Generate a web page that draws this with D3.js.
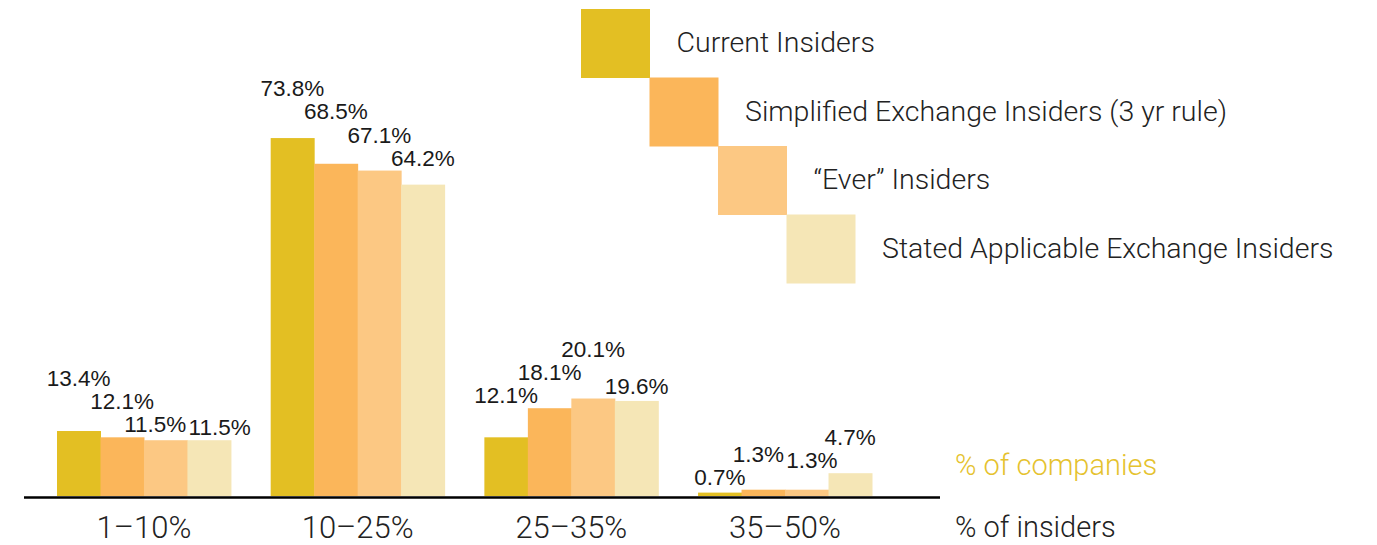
<!DOCTYPE html>
<html>
<head>
<meta charset="utf-8">
<script src="https://cdn.jsdelivr.net/npm/d3@7"></script>
<style>
	body { margin: 0; background: #fff; }
	svg { display: block; }
	.val { font-family: "Liberation Sans", Arial, sans-serif; font-size: 22.5px; fill: #1a1a1a; }
	.light { font-family: Roboto, "Open Sans", sans-serif; font-weight: 300; fill: #222; }
</style>
</head>
<body>
<svg width="1377" height="545"></svg>
<script>
// Data
var groups = ["1–10%", "10–25%", "25–35%", "35–50%"];
var series = ["Current Insiders", "Simplified Exchange Insiders (3 yr rule)", "“Ever” Insiders", "Stated Applicable Exchange Insiders"];
var current = [13.4, 73.8, 12.1, 0.7];
var simplified = [12.1, 68.5, 18.1, 1.3];
var ever = [11.5, 67.1, 20.1, 1.3];
var stated = [11.5, 64.2, 19.6, 4.7];
var colors = ["#e3bf23", "#fbb65a", "#fcc883", "#f5e6b6"];

var values = [current, simplified, ever, stated];

var svg = d3.select("svg"),
	width = +svg.attr("width"),
	height = +svg.attr("height");

// Scales
var x0 = d3.scaleBand().domain(groups).range([57, 872]).paddingInner(0.186);
var x1 = d3.scaleBand().domain(d3.range(series.length)).range([0, x0.bandwidth()]);
var y = d3.scaleLinear().domain([0, 80]).range([496, 108]);

// Flatten into bars
var bars = [];
groups.forEach((g, gi) => {
	series.forEach((s, si) => {
		bars.push({ group: g, gi: gi, si: si, value: values[si][gi] });
	});
});
bars.forEach((d) => {
	d.x0 = x0(d.group) + x1(d.si);
	d.x1 = d.x0 + x1.bandwidth();
	d.top = y(d.value);
});

svg.append("g")
	.selectAll("rect")
	.data(bars)
	.enter().append("rect")
	.attr("x", (d) => d.x0)
	.attr("y", (d) => d.top)
	.attr("width", (d) => x1.bandwidth() + 0.5)
	.attr("height", (d) => y(0) - d.top)
	.attr("fill", (d) => colors[d.si]);

// Baseline
svg.append("line")
	.attr("x1", 24).attr("x2", 940)
	.attr("y1", y(0) + 1.5).attr("y2", y(0) + 1.5)
	.attr("stroke", "#000")
	.attr("stroke-width", 2.6);

// Group labels
svg.append("g")
	.selectAll("text")
	.data(groups)
	.enter().append("text")
	.attr("class", "light")
	.attr("x", (d) => x0(d) + x0.bandwidth() / 2)
	.attr("y", 538)
	.attr("text-anchor", "middle")
	.attr("font-size", 31)
	.text((d) => d);

svg.append("text").attr("class", "light")
	.attr("x", 955).attr("y", 537).attr("font-size", 29)
	.text("% of insiders");
svg.append("text").attr("class", "light")
	.attr("x", 955).attr("y", 475).attr("font-size", 29)
	.style("fill", "#e5c22e")
	.text("% of companies");

// Value labels, nudged apart so they don't collide
var lab = svg.append("g")
	.selectAll("text")
	.data(bars)
	.enter().append("text")
	.attr("class", "val")
	.attr("text-anchor", "middle")
	.text((d) => d.value + "%");

var GAP = 5, H = 23, PAD = 1;
lab.each(function (d) {
	d.w = this.getComputedTextLength() + PAD * 2;
	d.ax = (d.x0 + d.x1) / 2;
	d.lx = d.ax;
	d.ly = d.top - GAP;
});

// label must sit above every bar it covers
function keepAbove(d) {
	bars.forEach((b) => {
		var ox = Math.min(d.lx + d.w / 2, b.x1) - Math.max(d.lx - d.w / 2, b.x0);
		if (ox > 1 && d.ly > b.top - GAP) d.ly = b.top - GAP;
	});
}

for (var it = 0; it < 600; it++) {
	for (var i = 0; i < bars.length; i++) {
		for (var j = i + 1; j < bars.length; j++) {
			var a = bars[i], b = bars[j];
			var ox = Math.min(a.lx + a.w / 2, b.lx + b.w / 2) - Math.max(a.lx - a.w / 2, b.lx - b.w / 2);
			var oy = Math.min(a.ly, b.ly) - Math.max(a.ly - H, b.ly - H);
			if (ox <= 0 || oy <= 0) continue;
			// equal bars -> side by side, otherwise the taller bar's label goes up
			if (Math.abs(a.top - b.top) < 1 || ox < 8) {
				var l = a.lx <= b.lx ? a : b, r = l === a ? b : a;
				l.lx -= ox / 2 + 0.1; r.lx += ox / 2 + 0.1;
			} else {
				var up = a.top < b.top ? a : b, dn = up === a ? b : a;
				up.ly -= oy / 2 + 0.1; dn.ly += oy / 2 + 0.1;
			}
		}
	}
	bars.forEach((d) => {
		if (it < 400) d.lx += (d.ax - d.lx) * 0.02;
		keepAbove(d);
	});
}

lab.attr("x", (d) => d.lx).attr("y", (d) => d.ly);

// Legend (staircase)
var SQ = 68.5;
var leg = svg.append("g")
	.selectAll("g")
	.data(series)
	.enter().append("g")
	.attr("transform", (d, i) => "translate(" + (581 + i * SQ) + "," + (9 + i * SQ) + ")");

leg.append("rect")
	.attr("width", SQ + 0.5)
	.attr("height", SQ + 0.5)
	.attr("fill", (d, i) => colors[i]);

leg.append("text")
	.attr("class", "light")
	.attr("x", SQ + 27)
	.attr("y", 43)
	.attr("font-size", 28.5)
	.text((d) => d);
</script>
</body>
</html>
